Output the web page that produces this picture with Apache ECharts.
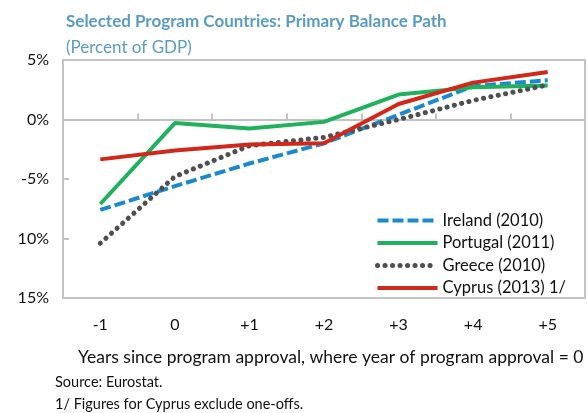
<!DOCTYPE html>
<html>
<head>
    <meta charset="utf-8">
    <title>Primary Balance Path</title>
    <script src="https://cdn.jsdelivr.net/npm/echarts@6/dist/echarts.min.js"></script>
    <style>
        body { margin: 0; background: #fff; }
        #chart { width: 587px; height: 413px; }
    </style>
</head>
<body>
    <div id="chart"></div>
    <script>
        // years since program approval
        var years = ['-1', '0', '+1', '+2', '+3', '+4', '+5'];

        // primary balance, percent of GDP
        var ireland  = [-7.6, -5.6, -3.7, -2.0, 0.4, 2.8, 3.3];
        var portugal = [-7.1, -0.3, -0.75, -0.2, 2.1, 2.7, 2.85];
        var greece   = [-10.4, -4.8, -2.2, -1.5, 0.0, 1.6, 2.9];
        var cyprus   = [-3.35, -2.6, -2.1, -2.0, 1.3, 3.1, 4.0];

        // y tick labels as printed on the original (no minus on the last two)
        var yTickLabels = {'5': '5%', '0': '0%', '-5': '-5%', '-10': '10%', '-15': '15%'};

        var font = 'Lato';
        var titleColor = '#5a9cc4';
        var frame = '#c3c3c3';

        var styles = {
            'Ireland (2010)':   {color: '#1a8ad0', width: 4, type: [11, 4]},
            'Portugal (2011)':  {color: '#1fb15c', width: 4},
            'Greece (2010)':    {color: '#4f4f4f', width: 5, type: [0.1, 7.4], cap: 'round'},
            'Cyprus (2013) 1/': {color: '#d2281c', width: 4}
        };

        function line(name, data) {
            return {
                name: name,
                type: 'line',
                data: data,
                symbol: 'none',
                lineStyle: styles[name],
                itemStyle: {color: styles[name].color},
                z: 3
            };
        }

        var chart = echarts.init(document.getElementById('chart'));
        chart.setOption({
            animation: false,
            title: [
                {
                    text: 'Selected Program Countries: Primary Balance Path',
                    left: 61, top: 8,
                    textStyle: {fontFamily: font, fontSize: 17, fontWeight: 'bold', color: titleColor}
                },
                {
                    text: '(Percent of GDP)',
                    left: 61, top: 34,
                    textStyle: {fontFamily: font, fontSize: 17, fontWeight: 'normal', color: titleColor}
                },
                {
                    text: 'Years since program approval, where year of program approval = 0',
                    left: 73, top: 343,
                    textStyle: {fontFamily: font, fontSize: 17.5, fontWeight: 'normal', color: '#111'}
                },
                {
                    text: 'Source: Eurostat.\n1/ Figures for Cyprus exclude one-offs.',
                    left: 50, top: 366,
                    textStyle: {fontFamily: font, fontSize: 14.5, fontWeight: 'normal', color: '#111', lineHeight: 22}
                }
            ],
            legend: {
                orient: 'vertical',
                left: 370, top: 207,
                itemWidth: 60, itemHeight: 14, itemGap: 5.5,
                itemStyle: {opacity: 0},
                textStyle: {fontFamily: font, fontSize: 16.5, color: '#111'},
                data: Object.keys(styles).map(function (n) {
                    return {name: n, lineStyle: styles[n]};
                })
            },
            grid: {
                left: 63, right: 2, top: 60, bottom: 115,
                show: true, borderColor: frame, borderWidth: 2
            },
            xAxis: [
                {
                    type: 'category',
                    data: years,
                    position: 'bottom',
                    axisLine: {show: false, onZero: false},
                    axisTick: {show: false},
                    axisLabel: {fontFamily: font, fontSize: 16, color: '#111', margin: 19}
                },
                {
                    type: 'category',
                    data: years,
                    position: 'top',
                    axisLine: {onZero: true, lineStyle: {color: frame, width: 2}},
                    axisTick: {show: true, length: 6, lineStyle: {color: frame, width: 2}},
                    axisLabel: {show: false}
                }
            ],
            yAxis: {
                type: 'value',
                min: -15, max: 5, interval: 5,
                splitLine: {show: false},
                axisLine: {show: false},
                axisTick: {show: true, inside: true, length: 6, lineStyle: {color: frame, width: 2}},
                axisLabel: {
                    fontFamily: font, fontSize: 16, color: '#111', margin: 14,
                    formatter: function (v) { return yTickLabels[String(v)]; }
                }
            },
            series: [
                line('Ireland (2010)', ireland),
                line('Portugal (2011)', portugal),
                line('Greece (2010)', greece),
                line('Cyprus (2013) 1/', cyprus)
            ]
        });
    </script>
</body>
</html>
